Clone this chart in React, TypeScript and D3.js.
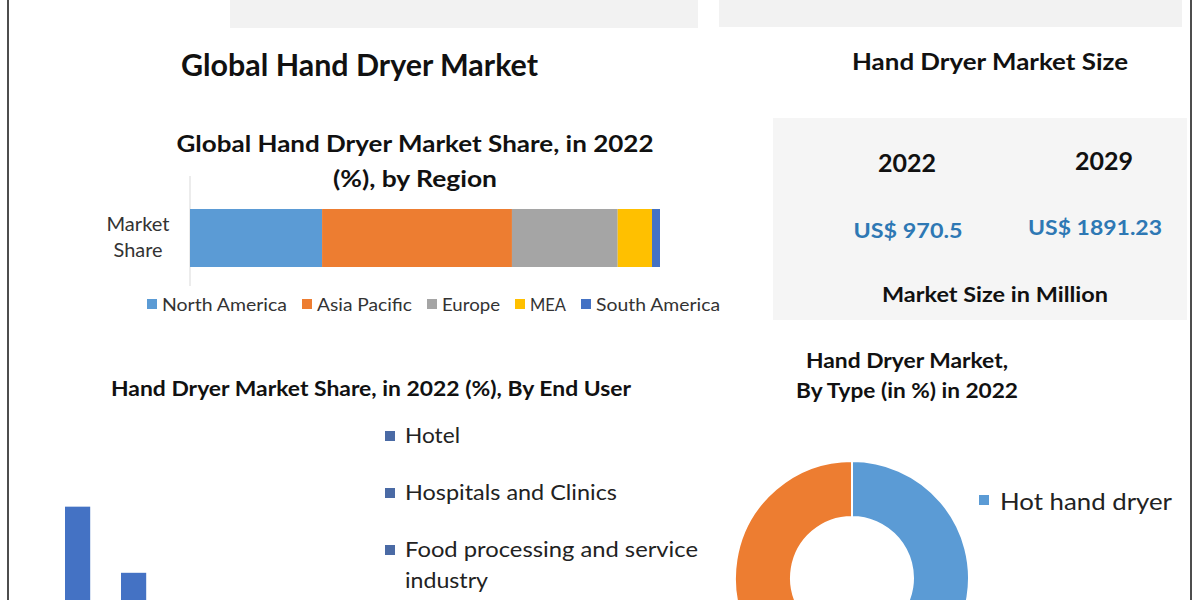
import React from "react";
import * as d3 from "d3";

const regions = ["North America", "Asia Pacific", "Europe", "MEA", "South America"];
const regionShare = [28.1, 40.4, 22.5, 7.3, 1.7];
const regionColors = ["#5b9bd5", "#ed7d31", "#a5a5a5", "#ffc000", "#4472c4"];

const endUsers = ["Hotel", "Hospitals and Clinics", "Food processing and service industry"];
const endUserShare = [40, 27.6, 22];

const types = ["Hot hand dryer", "Jet air hand dryer"];
const typeShare = [55, 45];
const typeColors = ["#5b9bd5", "#ed7d31"];

const sizeYears = ["2022", "2029"];
const sizeValues = ["US$ 970.5", "US$ 1891.23"];

const FONT = "Lato, 'Open Sans', sans-serif";

// layout-only: rendered widths of the legend labels
const regionLegendWidths = [125, 95, 58, 36, 124];

export default function App() {
  // Stacked region bar
  const xReg = d3.scaleLinear().domain([0, 100]).range([190, 660]);
  const yReg = d3.scaleBand().domain(["Market Share"]).range([209, 267]).padding(0);
  const row: any = { cat: "Market Share" };
  regions.forEach((r, i) => (row[r] = regionShare[i]));
  const stacked = d3.stack().keys(regions)([row]);

  // sequential legend layout
  const legX: number[] = [];
  let cx = 147;
  regionLegendWidths.forEach((w) => {
    legX.push(cx);
    cx += 10 + 5 + w + 15;
  });

  // End user bars
  const xEU = d3.scaleBand().domain(endUsers).range([49.6, 217.6]).paddingInner(0.55).paddingOuter(0.275);
  const yEU = d3.scaleLinear().domain([0, 45]).range([720, 480]);

  // Donut
  const pie = d3.pie<number>().sort(null).value((d) => d);
  const arcs = pie(typeShare);
  const arc = d3.arc<any>().innerRadius(61).outerRadius(117);

  const euLegendY = [443, 500, 557];
  const euWidths = [55, 212, 293];
  const typeLegendY = types.map((_, i) => 510 + i * 110).filter((y) => y < 590);

  return (
    <svg
      width={1200}
      height={600}
      viewBox="0 0 1200 600"
      style={{ position: "absolute", left: 0, top: 0, background: "#fff", fontFamily: FONT }}
    >
      <rect x={0} y={0} width={1200} height={600} fill="#ffffff" />
      {/* top grey panels */}
      <rect x={230} y={-4} width={468} height={32} fill="#f2f2f2" />
      <rect x={719} y={-4} width={463} height={31} fill="#f2f2f2" />

      {/* frame */}
      <line x1={8} y1={0} x2={8} y2={600} stroke="#4d4d4d" strokeWidth={2} />
      <line x1={1191} y1={0} x2={1191} y2={600} stroke="#4d4d4d" strokeWidth={2} />

      {/* Main title */}
      <text x={181} y={76} fontSize={30} fontWeight={700} fill="#111" textLength={357} lengthAdjust="spacingAndGlyphs">
        Global Hand Dryer Market
      </text>

      {/* Region stacked bar */}
      <text x={415} y={152} textAnchor="middle" fontSize={22} fontWeight={700} fill="#111" textLength={477} lengthAdjust="spacingAndGlyphs">
        Global Hand Dryer Market Share, in 2022
      </text>
      <text x={415} y={187} textAnchor="middle" fontSize={22} fontWeight={700} fill="#111" textLength={164} lengthAdjust="spacingAndGlyphs">
        (%), by Region
      </text>
      <line x1={190} y1={176} x2={190} y2={286} stroke="#d9d9d9" strokeWidth={1} />
      <text x={138} y={231} textAnchor="middle" fontSize={19} fill="#333" textLength={63} lengthAdjust="spacingAndGlyphs">Market</text>
      <text x={138} y={257} textAnchor="middle" fontSize={19} fill="#333" textLength={49} lengthAdjust="spacingAndGlyphs">Share</text>
      {stacked.map((s, i) =>
        s.map((d, j) => (
          <rect
            key={`${i}-${j}`}
            x={xReg(d[0])}
            y={yReg("Market Share")}
            width={xReg(d[1]) - xReg(d[0])}
            height={yReg.bandwidth()}
            fill={regionColors[i]}
          />
        ))
      )}
      {regions.map((r, i) => (
        <g key={r}>
          <rect x={legX[i]} y={299} width={10} height={10} fill={regionColors[i]} />
          <text x={legX[i] + 15} y={311} fontSize={18} fill="#333" textLength={regionLegendWidths[i]} lengthAdjust="spacingAndGlyphs">{r}</text>
        </g>
      ))}

      {/* Market size panel */}
      <text x={990} y={70} textAnchor="middle" fontSize={22} fontWeight={700} fill="#111" textLength={276} lengthAdjust="spacingAndGlyphs">
        Hand Dryer Market Size
      </text>
      <rect x={773} y={118} width={414} height={202} fill="#f5f5f5" />
      {sizeYears.map((yr, i) => (
        <text key={yr} x={[907, 1104][i]} y={[172, 170][i]} textAnchor="middle" fontSize={25} fontWeight={700} fill="#111">
          {yr}
        </text>
      ))}
      {sizeValues.map((v, i) => (
        <text key={v} x={[908, 1095][i]} y={[238, 235][i]} textAnchor="middle" fontSize={21} fontWeight={700} fill="#2e78b4"
          textLength={[109, 134][i]} lengthAdjust="spacingAndGlyphs">
          {v}
        </text>
      ))}
      <text x={995} y={302} textAnchor="middle" fontSize={21} fontWeight={700} fill="#111" textLength={226} lengthAdjust="spacingAndGlyphs">
        Market Size in Million
      </text>

      {/* End user chart */}
      <text x={371} y={396} textAnchor="middle" fontSize={20} fontWeight={700} fill="#111" textLength={520} lengthAdjust="spacingAndGlyphs">
        Hand Dryer Market Share, in 2022 (%), By End User
      </text>
      {endUsers.map((c, i) => (
        <rect key={c} x={xEU(c)} y={yEU(endUserShare[i])} width={xEU.bandwidth()} height={yEU(0) - yEU(endUserShare[i])} fill="#4472c4" />
      ))}
      {endUsers.map((c, i) => (
        <g key={"l" + c}>
          <rect x={385} y={euLegendY[i] - 12} width={10} height={10} fill="#4a6aa5" />
          {i < 2 ? (
            <text x={405} y={euLegendY[i]} fontSize={22} fill="#222" textLength={euWidths[i]} lengthAdjust="spacingAndGlyphs">{c}</text>
          ) : (
            <text x={405} y={euLegendY[i]} fontSize={22} fill="#222">
              <tspan x={405} textLength={euWidths[i]} lengthAdjust="spacingAndGlyphs">Food processing and service</tspan>
              <tspan x={405} dy={31} textLength={83} lengthAdjust="spacingAndGlyphs">industry</tspan>
            </text>
          )}
        </g>
      ))}

      {/* Donut */}
      <text x={907} y={368} textAnchor="middle" fontSize={21} fontWeight={700} fill="#111" textLength={202} lengthAdjust="spacingAndGlyphs">Hand Dryer Market,</text>
      <text x={907} y={398} textAnchor="middle" fontSize={21} fontWeight={700} fill="#111" textLength={222} lengthAdjust="spacingAndGlyphs">
        By Type (in %) in 2022
      </text>
      <g transform="translate(852,578)">
        {arcs.map((a, i) => (
          <path key={i} d={arc(a) as string} fill={typeColors[i]} stroke="#fff" strokeWidth={2} />
        ))}
      </g>
      {typeLegendY.map((y, i) => (
        <g key={types[i]}>
          <rect x={979} y={y - 15} width={10} height={10} fill={typeColors[i]} />
          <text x={1000} y={y} fontSize={24} fill="#222" textLength={172} lengthAdjust="spacingAndGlyphs">{types[i]}</text>
        </g>
      ))}
    </svg>
  );
}
